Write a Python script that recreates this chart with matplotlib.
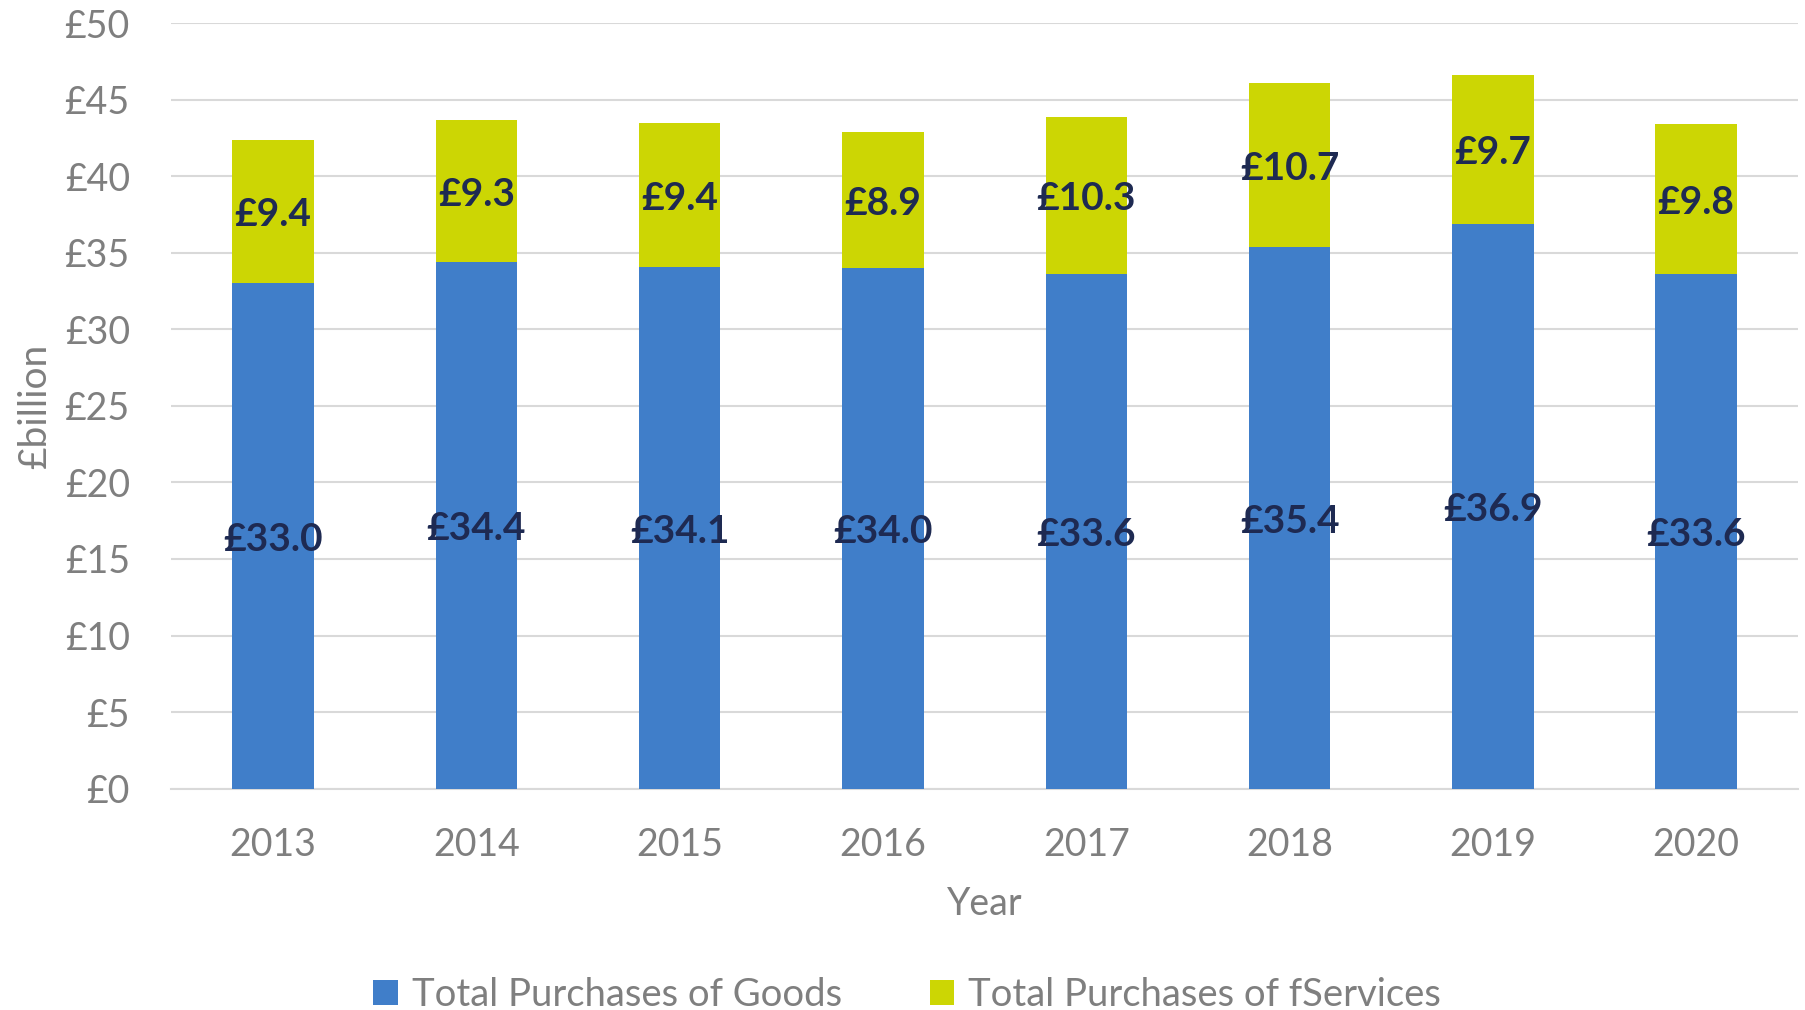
import matplotlib
matplotlib.use("Agg")
import matplotlib.pyplot as plt
from matplotlib.patches import Patch

years = ["2013", "2014", "2015", "2016", "2017", "2018", "2019", "2020"]
goods = [33.0, 34.4, 34.1, 34.0, 33.6, 35.4, 36.9, 33.6]
services = [9.4, 9.3, 9.4, 8.9, 10.3, 10.7, 9.7, 9.8]
yticks = [0, 5, 10, 15, 20, 25, 30, 35, 40, 45, 50]
ytick_labels = ["£" + str(v) for v in yticks]
series_names = ["Total Purchases of Goods", "Total Purchases of fServices"]

BLUE = "#407EC9"
YELLOW = "#CCD604"
GRAY = "#7F7F7F"
GRID = "#D9D9D9"
NAVY = "#1E2A52"

plt.rcParams['font.family'] = ['Lato', 'DejaVu Sans']

fig = plt.figure(figsize=(18.05, 10.10), dpi=100)
ax = fig.add_axes([0.095, 0.2192, 0.901, 0.7578])

x = list(range(len(years)))
ax.bar(x, goods, width=0.4, color=BLUE, zorder=3)
ax.bar(x, services, width=0.4, bottom=goods, color=YELLOW, zorder=3)

for xi, g, s in zip(x, goods, services):
    ax.annotate(f"£{g:.1f}", (xi, g / 2), xytext=(0, -2.5), textcoords="offset points",
                ha="center", va="center", fontsize=28, fontweight="bold",
                color=NAVY, zorder=4)
    ax.annotate(f"£{s:.1f}", (xi, g + s / 2), xytext=(0, -2.5), textcoords="offset points",
                ha="center", va="center", fontsize=28, fontweight="bold",
                color=NAVY, zorder=4)

ax.set_xlim(-0.5, len(years) - 0.5)
ax.set_ylim(0, 50)
ax.set_yticks(yticks)
ax.set_yticklabels(ytick_labels)
ax.set_xticks(x)
ax.set_xticklabels(years)
ax.tick_params(axis="y", length=0, pad=30, labelsize=27, labelcolor=GRAY)
ax.tick_params(axis="x", length=0, pad=28, labelsize=27, labelcolor=GRAY)
ax.grid(axis="y", color=GRID, linewidth=1.5, zorder=0)
for side in ["top", "right", "left"]:
    ax.spines[side].set_visible(False)
ax.spines["bottom"].set_color(GRID)
ax.spines["bottom"].set_linewidth(1.5)

ax.set_xlabel("Year", fontsize=27, color=GRAY, va="center")
ax.xaxis.set_label_coords(0.5, -0.1507)
ax.set_ylabel("£billion", fontsize=28, color=GRAY, va="center")
ax.yaxis.set_label_coords(-0.084, 0.5)

handles = [Patch(facecolor=BLUE), Patch(facecolor=YELLOW)]
fig.legend(handles, series_names, loc="center", bbox_to_anchor=(0.5025, 0.015),
           ncol=2, frameon=False, fontsize=27.5, labelcolor=GRAY,
           handlelength=0.65, handleheight=0.65, handletextpad=0.35,
           columnspacing=2.3)

fig.savefig("out.png", dpi=100)
